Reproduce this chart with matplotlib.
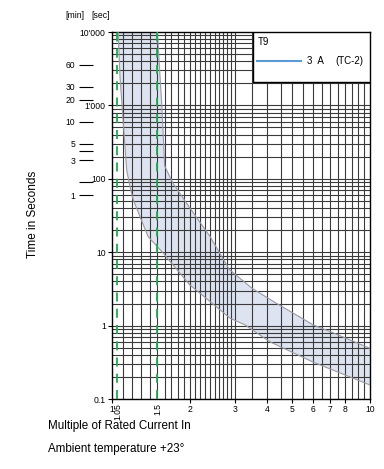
import numpy as np
import matplotlib
matplotlib.use("Agg")
import matplotlib.pyplot as plt
from matplotlib.patches import Rectangle
from matplotlib import font_manager

names = {f.name for f in font_manager.fontManager.ttflist}
base = 'Liberation Sans Narrow' if 'Liberation Sans Narrow' in names else 'Liberation Sans'
plt.rcParams['font.family'] = [base, 'DejaVu Sans']

# ---- data ----
x_lower = [1.057, 1.074, 1.113, 1.14, 1.174, 1.21, 1.38, 1.58, 2.0, 2.36, 2.87, 3.28, 4.1, 6.0, 10.0]
t_lower = [10000, 2460, 420, 131, 78, 51, 16.3, 9.7, 3.6, 2.23, 1.26, 1.02, 0.6, 0.32, 0.155]
x_upper = [1.50, 1.53, 1.56, 1.60, 1.72, 1.95, 2.4, 2.85, 3.5, 4.35, 6.03, 7.0, 10.0]
t_upper = [10000, 3000, 1000, 150, 88, 46, 16.3, 5.8, 3.2, 2.0, 1.02, 0.83, 0.49]

x_grid = [1.1, 1.2, 1.3, 1.4, 1.5, 1.6, 1.7, 1.8, 1.9, 2.0, 2.1, 2.2, 2.3, 2.4, 2.5, 2.6, 2.7, 2.8, 2.9,
          3.0, 3.5, 4.0, 4.5, 5.0, 5.5, 6.0, 6.5, 7.0, 7.5, 8.0, 8.5, 9.0, 9.5]
x_ticks = [1, 2, 3, 4, 5, 6, 7, 8, 10]
x_ticklabels = ['1', '2', '3', '4', '5', '6', '7', '8', '10']
x_special = [1.05, 1.5]
x_special_labels = ['1.05', '1.5']
y_ticks = [0.1, 1, 10, 100, 1000, 10000]
y_ticklabels = ['0.1', '1', '10', '100', "1'000", "10'000"]
min_ticks_sec = [3600, 1800, 1200, 600, 300, 240, 180, 90, 60]
min_ticklabels = ['60', '30', '20', '10', '5', '', '3', '', '1']
legend_title = 'T9'
legend_rating = '3  A'
legend_type = '(TC-2)'

fig = plt.figure(figsize=(3.84, 4.69), dpi=100)
ax = fig.add_axes([112/384, 1-399/469, 258/384, 367/469])
ax.set_xscale('log')
ax.set_yscale('log')
ax.set_xlim(1, 10)
ax.set_ylim(0.1, 10000)

# band
poly_x = np.concatenate([x_upper, x_lower[::-1]])
poly_t = np.concatenate([t_upper, t_lower[::-1]])
ax.fill(poly_x, poly_t, color='#dde3f1', zorder=1, lw=0)
ax.plot(x_upper, t_upper, color='#9a9aa4', lw=0.8, zorder=3)
ax.plot(x_lower, t_lower, color='#9a9aa4', lw=0.8, zorder=3)

# grid
gc = '#3a3a3a'
for xv in x_grid:
    ax.axvline(xv, color=gc, lw=0.8, zorder=2)
for dec in [0.1, 1, 10, 100, 1000]:
    for m in range(1, 10):
        ax.axhline(dec*m, color=gc, lw=0.8, zorder=2)

# dashed green
for xv in x_special:
    ax.axvline(xv, color='#1fa84f', lw=1.3, ls=(0, (5, 4)), zorder=4)

ax.set_xticks(x_ticks)
ax.set_xticklabels(x_ticklabels)
ax.xaxis.set_minor_locator(matplotlib.ticker.NullLocator())
ax.set_yticks(y_ticks)
ax.set_yticklabels(y_ticklabels)
ax.yaxis.set_minor_locator(matplotlib.ticker.NullLocator())
ax.tick_params(axis='both', labelsize=6.2, length=3, width=0.8, pad=1.5)
for s in ax.spines.values():
    s.set_linewidth(1.0)

for xv, lab in zip(x_special, x_special_labels):
    ax.text(xv, -0.012, lab, transform=ax.get_xaxis_transform(), rotation=90,
            ha='center', va='top', fontsize=6.2)

# minute axis
sec = ax.secondary_yaxis((93-112)/258)
sec.set_yscale('log')
sec.set_yticks(min_ticks_sec)
sec.set_yticklabels(min_ticklabels)
sec.yaxis.set_minor_locator(matplotlib.ticker.NullLocator())
sec.tick_params(length=10, width=0.8, labelsize=6.2, pad=3)
sec.spines['left'].set_visible(False)

fig.text(75/384, 1-16/469, '[min]', fontsize=6.2, ha='center', va='center')
fig.text(101/384, 1-16/469, '[sec]', fontsize=6.2, ha='center', va='center')

# legend box
ax.add_patch(Rectangle((0.5465, 0.8638), 0.4535, 0.1362, transform=ax.transAxes,
                       facecolor='white', edgecolor='black', lw=1.0, zorder=6))
ax.text(0.5465 + 5/258, 1 - 10/367, legend_title, transform=ax.transAxes,
        fontsize=7, va='center', ha='left', zorder=7)
ax.plot([0.5465 + 4/258, 0.5465 + 48/258], [1-29/367, 1-29/367], transform=ax.transAxes,
        color='#5b9bd5', lw=1.5, zorder=7)
ax.text((307-112)/258, 1-29/367, legend_rating, transform=ax.transAxes,
        fontsize=7, va='center', ha='left', zorder=7)
ax.text((335-112)/258, 1-29/367, legend_type, transform=ax.transAxes,
        fontsize=7, va='center', ha='left', zorder=7)

fig.text(33/384, 1-214/469, 'Time in Seconds', rotation=90, fontsize=8.5, ha='center', va='center')
fig.text(48/384, 1-426/469, 'Multiple of Rated Current In', fontsize=8.4, ha='left', va='center')
fig.text(48/384, 1-449/469, 'Ambient temperature +23°', fontsize=8.4, ha='left', va='center')

fig.savefig('out.png', dpi=100)
